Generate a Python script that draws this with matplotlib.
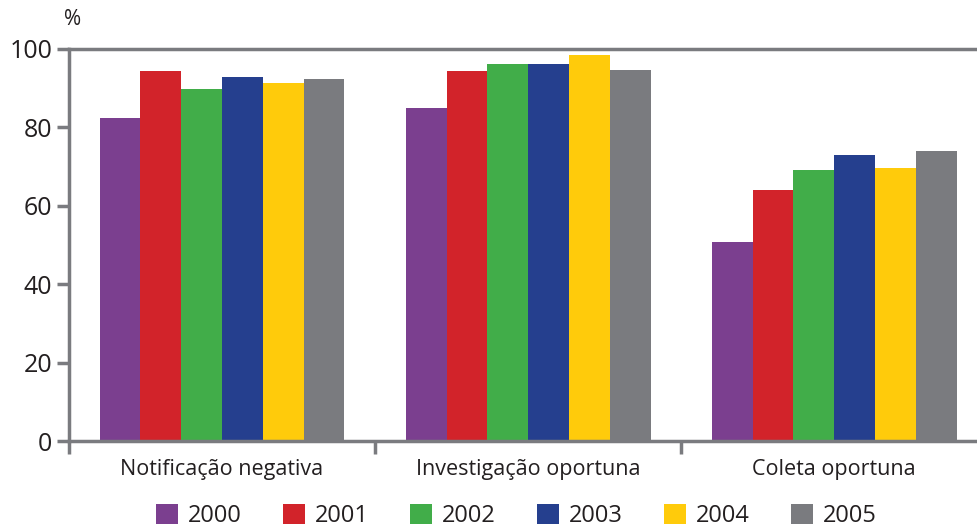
import numpy as np
import matplotlib.pyplot as plt

plt.rcParams['font.family'] = ['Open Sans', 'DejaVu Sans']

categories = ["Notificação negativa", "Investigação oportuna", "Coleta oportuna"]
years = ["2000", "2001", "2002", "2003", "2004", "2005"]
values = {
    "2000": [82.4, 84.9, 50.8],
    "2001": [94.4, 94.4, 64.0],
    "2002": [89.8, 96.2, 69.1],
    "2003": [92.9, 96.2, 73.0],
    "2004": [91.3, 98.5, 69.6],
    "2005": [92.3, 94.6, 74.0],
}
colors = ["#7b3f8f", "#d2232a", "#41ad49", "#253f8e", "#ffcb0b", "#7a7b7f"]

grey = "#7a7b7f"
txt = "#231f20"

fig = plt.figure(figsize=(9.77, 5.29), dpi=100)
ax = fig.add_axes([0.0706, 0.166, 0.94, 0.742])

x = np.arange(len(categories))
w = 0.8 / len(years)
for i, y in enumerate(years):
    ax.bar(x - 0.4 + w * (i + 0.5), values[y], width=w, color=colors[i], label=y)

ax.set_xlim(-0.5, 2.5)
ax.set_ylim(0, 100)
ax.set_yticks([0, 20, 40, 60, 80, 100])
ax.tick_params(axis='y', length=9, width=2.5, color=grey, labelsize=18, labelcolor=txt, pad=3)
ax.set_xticks(x)
ax.set_xticklabels(categories)
ax.tick_params(axis='x', which='major', length=0, labelsize=15.5, labelcolor=txt, pad=13)
ax.set_xticks([-0.5, 0.5, 1.5], minor=True)
ax.tick_params(axis='x', which='minor', length=9, width=2.5, color=grey, direction='out')

for s in ['left', 'bottom', 'top']:
    ax.spines[s].set_color(grey)
    ax.spines[s].set_linewidth(2.5)
ax.spines['right'].set_visible(False)

fig.text(0.066, 0.963, "%", fontsize=15, color=txt, ha='left', va='center')

fig.legend(loc='center left', bbox_to_anchor=(156 / 977, 0.024), ncol=6, frameon=False,
           fontsize=17, handlelength=0.93, handleheight=0.93, handletextpad=0.4,
           columnspacing=1.77, labelcolor=txt, borderpad=0, borderaxespad=0)

fig.savefig("out.png", dpi=100)
